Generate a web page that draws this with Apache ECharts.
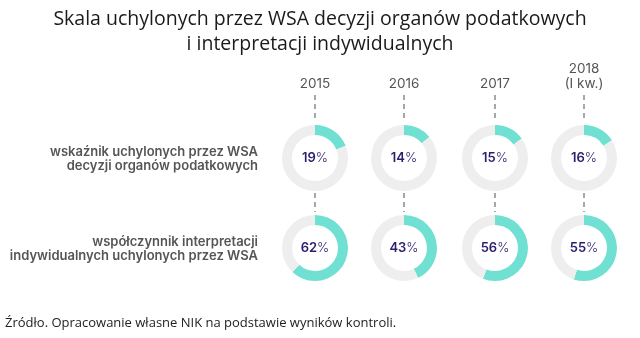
<!DOCTYPE html>
<html><head><meta charset="utf-8">
<script src="https://cdn.jsdelivr.net/npm/echarts@6/dist/echarts.min.js"></script>
<style>html,body{margin:0;padding:0;background:#fff}#c{width:640px;height:338px}</style>
</head><body><div id="c"></div>
<script>
const years = ['2015', '2016', '2017', '2018\n(I kw.)'];
const rowLabels = ['wskaźnik uchylonych przez WSA\ndecyzji organów podatkowych',
                   'współczynnik interpretacji\nindywidualnych uchylonych przez WSA'];
const row1Values = [19, 14, 15, 16];
const row2Values = [62, 43, 56, 55];
const titleText = 'Skala uchylonych przez WSA decyzji organów podatkowych\ni interpretacji indywidualnych';
const sourceText = 'Źródło. Opracowanie własne NIK na podstawie wyników kontroli.';

const colX = [315, 404, 495, 584];
const rowY = [158, 248];
const rOut = 33, rIn = 23;
const TEAL = '#6fe0d1', GREY = '#eeeeee', NAVY = '#2a1f6b';

const series = [];
[row1Values, row2Values].forEach((vals, r) => {
  vals.forEach((v, i) => {
    series.push({
      type: 'pie', radius: [rIn, rOut], center: [colX[i], rowY[r]],
      startAngle: 90, clockwise: true, silent: true, animation: false,
      labelLine: {show: false},
      data: [
        {value: v, itemStyle: {color: TEAL},
         label: {show: true, position: 'center', formatter: '{b|' + v + '}{p|%}',
           rich: {b: {fontFamily: 'Inter', fontWeight: 600, fontSize: 13, color: NAVY},
                  p: {fontFamily: 'Inter', fontWeight: 300, fontSize: 13, color: NAVY}}}},
        {value: 100 - v, itemStyle: {color: GREY}, label: {show: false}}
      ]
    });
  });
});

const graphics = [];
colX.forEach((x, i) => {
  graphics.push({type: 'line', shape: {x1: x, y1: 95, x2: x, y2: 121},
    style: {stroke: '#8a8a8a', lineWidth: 1.5, lineDash: [5, 4]}});
  graphics.push({type: 'line', shape: {x1: x, y1: 193, x2: x, y2: 212},
    style: {stroke: '#8a8a8a', lineWidth: 1.5, lineDash: [5, 4]}});
  const multi = years[i].indexOf('\n') >= 0;
  graphics.push({type: 'text', x: x, y: multi ? 61 : 76,
    style: {text: years[i], textAlign: 'center', fontFamily: 'Inter', fontSize: 13.5,
      lineHeight: 15, fill: '#555'}});
});
rowLabels.forEach((t, r) => {
  graphics.push({type: 'text', x: 258, y: rowY[r] - 13,
    style: {text: t, textAlign: 'right', fontFamily: 'Inter', fontWeight: 600, fontSize: 13,
      lineHeight: 14, fill: '#555'}});
});
graphics.push({type: 'text', x: 5, y: 317,
  style: {text: sourceText, fontFamily: 'Open Sans', fontSize: 13, fill: '#222'}});

const chart = echarts.init(document.getElementById('c'), null, {renderer: 'canvas'});
chart.setOption({
  backgroundColor: '#fff',
  animation: false,
  title: {text: titleText, left: 'center', top: 2,
    textStyle: {fontFamily: 'Open Sans', fontWeight: 'normal', fontSize: 19.5, lineHeight: 25, color: '#1a1a1a'}},
  series: series,
  graphic: graphics
});
</script></body></html>
